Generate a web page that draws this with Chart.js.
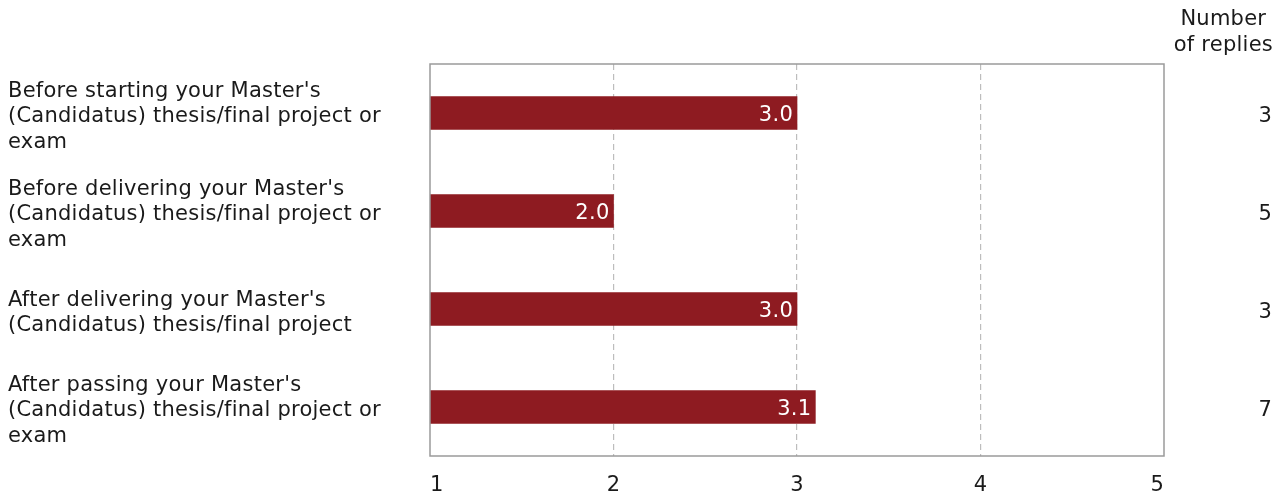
<!DOCTYPE html>
<html>
<head>
<meta charset="utf-8">
<script src="https://cdn.jsdelivr.net/npm/chart.js@4.4.0/dist/chart.umd.min.js"></script>
<style>
  html, body { margin: 0; padding: 0; background: #fff; }
  #wrap { width: 1287px; height: 497px; }
</style>
</head>
<body>
<div id="wrap"><canvas id="chart"></canvas></div>
<script>
// categories (multi-line labels as on the left of the chart)
var categories = [
  ["Before starting your Master's", "(Candidatus) thesis/final project or", "exam"],
  ["Before delivering your Master's", "(Candidatus) thesis/final project or", "exam"],
  ["After delivering your Master's", "(Candidatus) thesis/final project"],
  ["After passing your Master's", "(Candidatus) thesis/final project or", "exam"]
];
var averages = [3.0, 2.0, 3.0, 3.1];
var replies = ['3', '5', '3', '7'];
var repliesTitle = ['Number', 'of replies'];
var xTicks = [1, 2, 3, 4, 5];

var FONT = "'DejaVu Sans', Verdana, sans-serif";
var TEXT = '#1a1a1a';
var FS = 21;
var SPACING = '0.25px';

// a touch of letter spacing, like the hinted Verdana of the original
var spacing = {
  id: 'spacing',
  beforeUpdate: function(chart){ chart.ctx.letterSpacing = SPACING; },
  beforeDraw: function(chart){ chart.ctx.letterSpacing = SPACING; }
};

// white value labels at the end of each bar
var valueLabels = {
  id: 'valueLabels',
  afterDatasetsDraw: function(chart){
    var ctx = chart.ctx;
    var meta = chart.getDatasetMeta(0);
    ctx.save();
    ctx.font = FS + 'px ' + FONT;
    ctx.fillStyle = '#fff';
    ctx.textAlign = 'right';
    ctx.textBaseline = 'middle';
    meta.data.forEach(function(bar, i){
      ctx.fillText(averages[i].toFixed(1), bar.x - 4, bar.y + 3);
    });
    ctx.restore();
  }
};

// grey frame around the plot + centred header of the replies column
var plotFrame = {
  id: 'plotFrame',
  afterDraw: function(chart){
    var a = chart.chartArea, ctx = chart.ctx;
    ctx.save();
    ctx.strokeStyle = '#9a9a9a';
    ctx.lineWidth = 1.5;
    ctx.strokeRect(a.left, a.top, a.right - a.left, a.bottom - a.top);

    ctx.font = FS + 'px ' + FONT;
    ctx.fillStyle = TEXT;
    ctx.textAlign = 'center';
    ctx.textBaseline = 'middle';
    var w = Math.max.apply(null, repliesTitle.map(function(t){ return ctx.measureText(t).width; }));
    var cx = chart.scales.y2.right + 1 - w / 2;
    repliesTitle.forEach(function(t, i){ ctx.fillText(t, cx, 20 + i * 26); });
    ctx.restore();
  }
};

new Chart(document.getElementById('chart').getContext('2d'), {
  type: 'bar',
  data: {
    labels: categories,
    datasets: [{
      data: averages,
      backgroundColor: '#8E1B21',
      borderWidth: 0,
      barThickness: 33
    }]
  },
  options: {
    indexAxis: 'y',
    responsive: true,
    maintainAspectRatio: false,
    animation: false,
    layout: { padding: { left: 8, right: 15, top: 64, bottom: 1 } },
    plugins: {
      legend: { display: false },
      tooltip: { enabled: false },
      title: { display: false }
    },
    scales: {
      x: {
        type: 'linear',
        min: 1,
        max: 5,
        afterBuildTicks: function(axis){ axis.ticks = xTicks.map(function(v){ return { value: v }; }); },
        ticks: {
          align: 'inner',
          color: TEXT,
          padding: 17,
          font: { family: FONT, size: FS, lineHeight: 1.2 }
        },
        grid: {
          drawTicks: false,
          color: function(c){ return (c.tick && (c.tick.value === 1 || c.tick.value === 5)) ? 'rgba(0,0,0,0)' : '#bdbdbd'; },
          lineWidth: 1.2
        },
        border: { display: false, dash: [6, 4] },
        afterFit: function(axis){ axis.height = 40; }
      },
      y: {
        position: 'left',
        grid: { display: false, drawTicks: false },
        border: { display: false },
        ticks: {
          crossAlign: 'far',
          color: TEXT,
          padding: 0,
          labelOffset: 4,
          font: { family: FONT, size: FS, lineHeight: 1.23 }
        },
        afterFit: function(axis){ axis.width = 422; axis.paddingTop = 0; axis.paddingBottom = 0; }
      },
      y2: {
        type: 'category',
        position: 'right',
        labels: replies,
        offset: true,
        grid: { display: false, drawTicks: false },
        border: { display: false },
        ticks: {
          crossAlign: 'far',
          color: TEXT,
          padding: 0,
          labelOffset: 4,
          font: { family: FONT, size: FS }
        },
        afterFit: function(axis){ axis.width = 108; axis.paddingTop = 0; axis.paddingBottom = 0; }
      }
    }
  },
  plugins: [spacing, valueLabels, plotFrame]
});
</script>
</body>
</html>
